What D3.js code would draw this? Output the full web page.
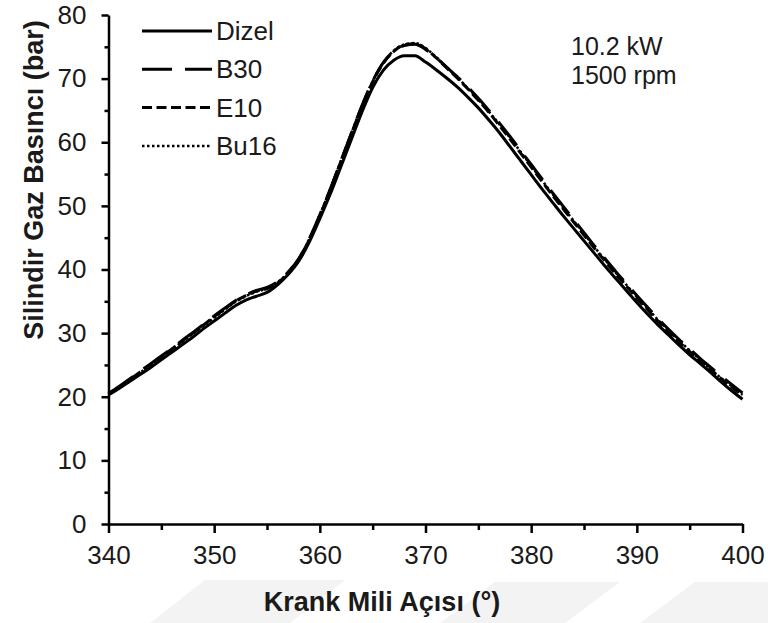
<!DOCTYPE html>
<html>
<head>
<meta charset="utf-8">
<script src="https://cdn.jsdelivr.net/npm/d3@7"></script>
<style>
  html, body { margin: 0; padding: 0; background: #fff; }
  svg { display: block; font-family: "Liberation Sans", Arial, sans-serif; }
</style>
</head>
<body>
<svg id="chart" width="768" height="623"></svg>
<script>
// Crank angle (degrees), one sample per degree
const crankAngle = d3.range(340, 401, 1);

// Cylinder gas pressure (bar) for each fuel
const dizel = [
  20.3, 21.3, 22.4, 23.5, 24.6, 25.8, 27.0, 28.2, 29.4, 30.7,
  31.9, 33.1, 34.3, 35.2, 35.8, 36.4, 37.6, 39.2, 41.3, 44.3,
  48.0, 51.9, 56.2, 60.5, 64.8, 68.6, 71.3, 72.9, 73.6, 73.6,
  72.6, 71.4, 70.1, 68.7, 67.1, 65.4, 63.5, 61.5, 59.3, 57.1,
  54.9, 52.7, 50.6, 48.5, 46.5, 44.5, 42.5, 40.5, 38.6, 36.7,
  34.8, 33.0, 31.3, 29.7, 28.1, 26.6, 25.2, 23.8, 22.3, 20.9,
  19.6
];
const b30 = [
  20.5, 21.6, 22.8, 24.0, 25.2, 26.4, 27.6, 28.9, 30.1, 31.4,
  32.7, 33.9, 35.1, 36.0, 36.7, 37.2, 38.1, 39.6, 41.7, 44.8,
  48.6, 52.7, 57.1, 61.5, 65.8, 69.6, 72.5, 74.3, 75.2, 75.4,
  74.6, 73.3, 71.8, 70.3, 68.7, 66.9, 65.0, 63.0, 60.9, 58.7,
  56.5, 54.3, 52.1, 50.0, 47.9, 45.8, 43.7, 41.7, 39.7, 37.8,
  35.9, 34.1, 32.3, 30.6, 29.0, 27.5, 26.0, 24.6, 23.2, 21.9,
  20.6
];
const e10 = [
  20.4, 21.5, 22.7, 23.9, 25.1, 26.3, 27.5, 28.8, 30.0, 31.3,
  32.6, 33.8, 35.0, 35.9, 36.6, 37.0, 37.9, 39.4, 41.6, 44.7,
  48.5, 52.6, 57.0, 61.4, 65.7, 69.5, 72.4, 74.3, 75.3, 75.5,
  74.7, 73.3, 71.7, 70.1, 68.4, 66.6, 64.7, 62.6, 60.5, 58.3,
  56.1, 53.9, 51.7, 49.6, 47.5, 45.4, 43.3, 41.3, 39.3, 37.4,
  35.5, 33.7, 31.9, 30.2, 28.6, 27.1, 25.6, 24.2, 22.8, 21.5,
  20.2
];
const bu16 = [
  20.4, 21.5, 22.6, 23.8, 25.0, 26.2, 27.4, 28.7, 29.9, 31.2,
  32.4, 33.7, 34.9, 35.8, 36.5, 37.0, 38.0, 39.5, 41.7, 44.8,
  48.6, 52.7, 57.1, 61.5, 65.8, 69.6, 72.5, 74.4, 75.4, 75.6,
  74.8, 73.4, 71.8, 70.2, 68.5, 66.7, 64.8, 62.8, 60.7, 58.5,
  56.3, 54.1, 51.9, 49.8, 47.7, 45.6, 43.5, 41.5, 39.5, 37.6,
  35.7, 33.9, 32.1, 30.4, 28.8, 27.3, 25.8, 24.3, 22.9, 21.6,
  20.3
];

const seriesNames = ["Dizel", "B30", "E10", "Bu16"];
const xTicks = [340, 350, 360, 370, 380, 390, 400];
const xMinorTicks = [345, 355, 365, 375, 385, 395];
const yTicks = [0, 10, 20, 30, 40, 50, 60, 70, 80];
const yMinorTicks = [5, 15, 25, 35, 45, 55, 65, 75];
const annotation = ["10.2 kW", "1500 rpm"];

const styles = {
  "Dizel": { dash: null, width: 3 },
  "B30":   { dash: "30,13", width: 3 },
  "E10":   { dash: "10,4.5", width: 3 },
  "Bu16":  { dash: "2.5,2.5", width: 2.5 }
};

const series = [
  { name: "Dizel", values: dizel },
  { name: "B30", values: b30 },
  { name: "E10", values: e10 },
  { name: "Bu16", values: bu16 }
];

const svg = d3.select("#chart");

// faint background watermark bands along the bottom edge
const wm = svg.append("g").attr("fill", "#f3f3f3");
[[150, 623, 205, 580, 345, 580, 290, 623],
 [440, 623, 495, 582, 620, 582, 565, 623],
 [640, 623, 695, 582, 768, 582, 768, 623]].forEach(p => {
  wm.append("polygon").attr("points",
    `${p[0]},${p[1]} ${p[2]},${p[3]} ${p[4]},${p[5]} ${p[6]},${p[7]}`);
});

const x = d3.scaleLinear().domain([340, 400]).range([108.5, 742.5]);
const y = d3.scaleLinear().domain([0, 80]).range([524, 15]);

const fontSize = 26;
const titleSize = 27;

// x axis
svg.append("g")
  .attr("transform", `translate(0,${y(0)})`)
  .call(d3.axisBottom(x).tickValues(xTicks).tickSize(9).tickSizeOuter(0).tickPadding(13));
svg.append("g")
  .attr("transform", `translate(0,${y(0)})`)
  .call(d3.axisBottom(x).tickValues(xMinorTicks).tickSize(6).tickSizeOuter(0).tickFormat(""))
  .call(g => g.select(".domain").remove());

// y axis
svg.append("g")
  .attr("transform", `translate(${x(340)},0)`)
  .call(d3.axisLeft(y).tickValues(yTicks).tickSize(7).tickSizeOuter(0).tickPadding(15));
svg.append("g")
  .attr("transform", `translate(${x(340)},0)`)
  .call(d3.axisLeft(y).tickValues(yMinorTicks).tickSize(4).tickSizeOuter(0).tickFormat(""))
  .call(g => g.select(".domain").remove());

svg.selectAll(".domain").attr("stroke", "#000").attr("stroke-width", 2.5);
svg.selectAll(".tick line").attr("stroke", "#000").attr("stroke-width", 2.5);
svg.selectAll(".tick text")
  .attr("font-family", "'Liberation Sans', Arial, sans-serif")
  .attr("font-size", fontSize)
  .attr("fill", "#1a1a1a");

// axis titles
svg.append("text")
  .attr("x", 382)
  .attr("y", 611)
  .attr("text-anchor", "middle")
  .attr("font-weight", "bold")
  .attr("font-size", titleSize)
  .attr("fill", "#1a1a1a")
  .text("Krank Mili Açısı (°)");

svg.append("text")
  .attr("transform", `translate(43,180) rotate(-90)`)
  .attr("text-anchor", "middle")
  .attr("font-weight", "bold")
  .attr("font-size", titleSize)
  .attr("fill", "#1a1a1a")
  .text("Silindir Gaz Basıncı (bar)");

// pressure curves
const line = d3.line()
  .x((d, i) => x(crankAngle[i]))
  .y(d => y(d))
  .curve(d3.curveMonotoneX);

svg.append("g").selectAll("path")
  .data(series)
  .join("path")
  .attr("d", d => line(d.values))
  .attr("fill", "none")
  .attr("stroke", "#000")
  .attr("stroke-width", d => styles[d.name].width)
  .attr("stroke-dasharray", d => styles[d.name].dash)
  .attr("stroke-linejoin", "round");

// legend
const legend = svg.append("g");
seriesNames.forEach((name, i) => {
  const cy = 31 + i * 38.3;
  legend.append("line")
    .attr("x1", 142).attr("x2", 212)
    .attr("y1", cy).attr("y2", cy)
    .attr("stroke", "#000")
    .attr("stroke-width", styles[name].width)
    .attr("stroke-dasharray", styles[name].dash);
  legend.append("text")
    .attr("x", 216).attr("y", cy + 9)
    .attr("font-size", fontSize)
    .attr("fill", "#1a1a1a")
    .text(name);
});

// operating condition note
annotation.forEach((t, i) => {
  svg.append("text")
    .attr("x", 571)
    .attr("y", 55 + i * 29)
    .attr("font-size", 25)
    .attr("fill", "#1a1a1a")
    .text(t);
});
</script>
</body>
</html>
